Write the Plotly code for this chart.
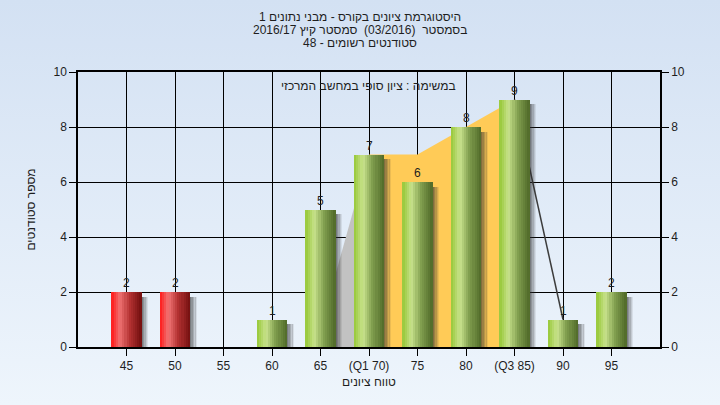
import base64
import plotly.graph_objects as go

# ---------------- data ----------------
categories = ["45", "50", "55", "60", "65", "(Q1 70)", "75", "80", "(Q3 85)", "90", "95"]
counts = [2, 2, 0, 1, 5, 7, 6, 8, 9, 1, 2]
failing = [True, True, True, False, False, False, False, False, False, False, False]
iqr_x = [5, 6, 7, 8]          # category indices of the shaded quartile area
iqr_y = [7, 7, 8, 9]
lead_x = [4, 5]               # light grey wedge before Q1
lead_y = [0.7, 7]
tail_x = [8, 9]               # line after Q3
tail_y = [9, 1]

title_lines = [
    "היסטוגרמת ציונים בקורס - מבני נתונים 1",
    "בסמסטר  (03/2016)  סמסטר קיץ 2016/17",
    "סטודנטים רשומים - 48",
]
note_text = "במשימה : ציון סופי במחשב המרכזי"
x_title = "טווח ציונים"
y_title = "מספר סטודנטים"

# ---------------- style ----------------
FONT = "Liberation Sans, Arial, sans-serif"
TXT = "#1e1e1e"
W, H = 720, 405
L, R, T, B = 78, 60, 72, 58
PW, PH = W - L - R, H - T - B
idx = list(range(len(categories)))

def mix(c1, c2, t):
    return tuple(int(round(a + (b - a) * t)) for a, b in zip(c1, c2))

def grad(stops, t):
    for (p0, c0), (p1, c1) in zip(stops, stops[1:]):
        if p0 <= t <= p1:
            return mix(c0, c1, (t - p0) / (p1 - p0))
    return stops[-1][1]

green_stops = [(0.0, (150, 200, 55)), (0.3, (200, 226, 140)), (0.6, (130, 160, 80)), (1.0, (80, 105, 40))]
red_stops = [(0.0, (255, 25, 25)), (0.28, (240, 115, 115)), (0.6, (180, 50, 50)), (1.0, (115, 15, 15))]

fig = go.Figure()

# background gradient (paper)
svg = ('<svg xmlns="http://www.w3.org/2000/svg" width="10" height="100" preserveAspectRatio="none">'
       '<defs><linearGradient id="g" x1="0" y1="0" x2="0" y2="1">'
       '<stop offset="0" stop-color="#D3E1F3"/><stop offset="1" stop-color="#EEF5FC"/>'
       '</linearGradient></defs><rect width="10" height="100" fill="url(#g)"/></svg>')
src = "data:image/svg+xml;base64," + base64.b64encode(svg.encode()).decode()
fig.add_layout_image(source=src, xref="paper", yref="paper", x=-L / PW, y=1 + T / PH,
                     sizex=W / PW, sizey=H / PH, sizing="stretch", xanchor="left",
                     yanchor="top", layer="below")

# areas / line behind bars (main y axis)
fig.add_trace(go.Scatter(x=lead_x, y=lead_y, mode="lines", fill="tozeroy",
                         fillcolor="rgba(194,194,194,1)", line=dict(width=0),
                         hoverinfo="skip", showlegend=False))
fig.add_trace(go.Scatter(x=iqr_x, y=iqr_y, mode="lines", fill="tozeroy",
                         fillcolor="#FFCB57", line=dict(width=0, color="#FFCB57"),
                         hoverinfo="skip", showlegend=False))
fig.add_trace(go.Scatter(x=tail_x, y=tail_y, mode="lines",
                         line=dict(width=1.5, color="#3c3c3c"),
                         hoverinfo="skip", showlegend=False))

BW = 0.62
# soft shadows (overlay axis, drawn above areas)
shadow_y = [max(v - 0.18, 0) for v in counts]
SW = 0.028
for k, a in enumerate([0.6, 0.48, 0.34, 0.2, 0.09]):
    fig.add_trace(go.Bar(x=idx, y=shadow_y, width=SW + 0.002, offset=BW / 2 + k * SW,
                         marker=dict(color="rgba(45,45,45,%.2f)" % a, line=dict(width=0)),
                         yaxis="y2", hoverinfo="skip", showlegend=False))

# gradient bars, built from slices
N = 14
for s in range(N):
    t = (s + 0.5) / N
    cols = ["rgb(%d,%d,%d)" % grad(red_stops if f else green_stops, t) for f in failing]
    fig.add_trace(go.Bar(x=idx, y=counts, width=BW / N + 0.002, offset=-BW / 2 + s * BW / N,
                         marker=dict(color=cols, line=dict(width=0)),
                         yaxis="y2", hoverinfo="skip", showlegend=False))

# value labels
for i, v in zip(idx, counts):
    if v > 0:
        fig.add_annotation(x=i, y=v, xref="x", yref="y2", text=str(v), showarrow=False,
                           yshift=9, font=dict(family=FONT, size=12, color=TXT))

# title lines
for k, line in enumerate(title_lines):
    fig.add_annotation(text=line, xref="paper", yref="paper", x=(360 - L) / PW,
                       y=(H - B - (17 + 13 * k)) / PH, showarrow=False,
                       font=dict(family=FONT, size=12, color=TXT), xanchor="center", yanchor="middle")
fig.add_annotation(text=note_text, xref="paper", yref="paper", x=(368 - L) / PW,
                   y=(H - B - 86) / PH, showarrow=False,
                   font=dict(family=FONT, size=12, color=TXT), xanchor="center", yanchor="middle")

axis_common = dict(showline=True, linecolor="black", linewidth=1.5, ticks="outside",
                   tickcolor="black", ticklen=7, tickfont=dict(family=FONT, size=12, color=TXT),
                   showgrid=True, gridcolor="black", gridwidth=1.3, zeroline=False,
                   automargin=False)

fig.update_layout(
    width=W, height=H, margin=dict(l=L, r=R, t=T, b=B, pad=0),
    plot_bgcolor="#B4B4B4", paper_bgcolor="#E6EEF8",
    barmode="overlay", bargap=0, showlegend=False,
    xaxis=dict(range=[-1, len(categories)], tickvals=idx, ticktext=categories,
               title=dict(text=x_title, font=dict(family=FONT, size=12, color=TXT), standoff=5),
               mirror=True, **axis_common),
    yaxis=dict(range=[0, 10], tickvals=[0, 2, 4, 6, 8, 10], mirror=True,
               title=dict(text=y_title, font=dict(family=FONT, size=12, color=TXT), standoff=15),
               **axis_common),
    yaxis2=dict(range=[0, 10], tickvals=[0, 2, 4, 6, 8, 10], overlaying="y", side="right",
                showline=True, linecolor="black", linewidth=1.5, ticks="outside",
                tickcolor="black", ticklen=7, tickfont=dict(family=FONT, size=12, color=TXT),
                showgrid=False, zeroline=False, automargin=False),
    font=dict(family=FONT, color=TXT),
)

fig.write_html("out.html", config={"displayModeBar": False},
               post_script="document.body.style.margin='0';")
